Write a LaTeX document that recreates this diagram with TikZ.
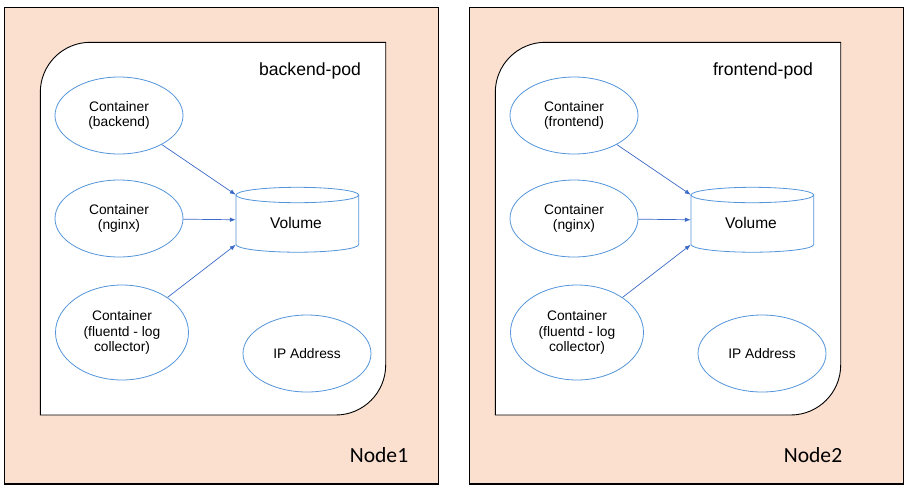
\documentclass[tikz,border=0pt]{standalone}
\usepackage{fontspec}
\setmainfont{Liberation Sans}
\newfontfamily\nodefont{Carlito}
\usetikzlibrary{shapes.geometric,arrows.meta}
\definecolor{peach}{RGB}{251,224,208}
\definecolor{ringblue}{RGB}{84,148,218}
\definecolor{linkblue}{RGB}{60,106,200}
\tikzset{
  hostbox/.style={draw=black,fill=peach,line width=1.1pt},
  podbox/.style={draw=black,fill=white,line width=0.9pt},
  ctr/.style={ellipse,draw=ringblue,line width=0.8pt,inner sep=0pt,
    minimum width=128pt,minimum height=77pt,align=center,
    font=\fontsize{13.8}{15.8}\selectfont},
  volbody/.style={draw=ringblue,line width=0.8pt,fill=white},
  vol/.style={rectangle,inner sep=0pt,minimum width=122.7pt,minimum height=49.5pt,
    font=\fontsize{15.5}{18}\selectfont},
  podlabel/.style={font=\fontsize{17.6}{20}\selectfont},
  hostlabel/.style={font=\nodefont\fontsize{21.6}{24}\selectfont},
  link/.style={draw=linkblue,line width=0.7pt,-{Latex[length=6pt,width=4.5pt]}}
}
\begin{document}
\begin{tikzpicture}[x=1pt,y=-1pt]
\useasboundingbox (0,0) rectangle (915,491);

% hosts
\draw[hostbox] (4.5,7.5) rectangle (438.5,484);
\draw[hostbox] (469.3,7.5) rectangle (903.3,484);
\node[hostlabel] (n1) at (379,455) {Node1};
\node[hostlabel] (n2) at (813,455) {Node2};

% pods: rectangles with rounded top-left and bottom-right corners
\foreach \L/\R in {40.3/385.7, 495.3/840.7}{
  \draw[podbox] (\L,92.3) .. controls (\L,64.7) and (\L+22.4,42.3) .. (\L+50,42.3)
    -- (\R,42.3) -- (\R,365)
    .. controls (\R,392.6) and (\R-22.4,415) .. (\R-50,415)
    -- (\L,415) -- cycle;
}
\node[podlabel] (p1) at (310,71) {backend-pod};
\node[podlabel] (p2) at (763,71) {frontend-pod};

% volumes (cylinders drawn by hand around a named anchor box)
\foreach \X in {297.35, 752.35}{
  \draw[volbody] (\X-61.35,195) -- (\X-61.35,244.5)
    arc[start angle=180,end angle=0,x radius=61.35,y radius=7.7]
    -- (\X+61.35,195);
  \draw[volbody] (\X,195) ellipse[x radius=61.35,y radius=7.7];
}
\node[vol] (v1) at (297.35,219.75) {};
\node[vol] (v2) at (752.35,219.75) {};
\node[font=\fontsize{15.5}{18}\selectfont] (v1t) at (296,223) {Volume};
\node[font=\fontsize{15.5}{18}\selectfont] (v2t) at (751,223) {Volume};

% containers, backend pod
\node[ctr] (b1) at (119,115.5) {Container\\(backend)};
\node[ctr] (b2) at (119,218.5) {Container\\(nginx)};
\node[ctr,minimum width=133pt,minimum height=95pt] (b3) at (122,332.5) {Container\\(fluentd - log\\collector)};
\node[ctr] (b4) at (307,353.5) {IP Address};

% containers, frontend pod
\node[ctr] (f1) at (574,115.5) {Container\\(frontend)};
\node[ctr] (f2) at (574,218.5) {Container\\(nginx)};
\node[ctr,minimum width=133pt,minimum height=95pt] (f3) at (577,332.5) {Container\\(fluentd - log\\collector)};
\node[ctr] (f4) at (762,353.5) {IP Address};

% mounts
\draw[link] (b1) -- (v1.north west);
\draw[link] (b2) -- (v1.west);
\draw[link] (b3) -- (v1.south west);
\draw[link] (f1) -- (v2.north west);
\draw[link] (f2) -- (v2.west);
\draw[link] (f3) -- (v2.south west);
\end{tikzpicture}
\end{document}
